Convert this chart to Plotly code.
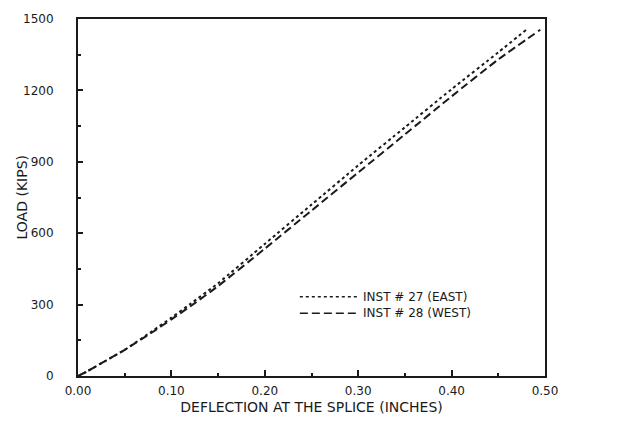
import plotly.graph_objects as go

# Load-deflection readings at the splice for the two instruments
deflection_east = [0.0, 0.01, 0.03, 0.05, 0.08, 0.10, 0.12, 0.15, 0.20, 0.25, 0.30, 0.35, 0.40, 0.45, 0.48]
load_east = [0, 20, 65, 110, 190, 245, 302, 390, 555, 720, 885, 1045, 1205, 1360, 1455]

deflection_west = [0.0, 0.01, 0.03, 0.05, 0.08, 0.10, 0.12, 0.15, 0.20, 0.25, 0.30, 0.35, 0.40, 0.45, 0.495]
load_west = [0, 20, 65, 110, 185, 238, 292, 378, 535, 695, 855, 1015, 1175, 1330, 1455]

x_ticks = [0.0, 0.1, 0.2, 0.3, 0.4, 0.5]
x_tick_labels = ["0.00", "0.10", "0.20", "0.30", "0.40", "0.50"]
y_ticks = [0, 300, 600, 900, 1200, 1500]
y_tick_labels = ["0", "300", "600", "900", "1200", "1500"]

legend_names = ["INST # 27 (EAST)", "INST # 28 (WEST)"]

INK = "#1a1a1a"
FONT = "DejaVu Sans"

fig = go.Figure()
fig.add_trace(go.Scatter(x=deflection_east, y=load_east, mode="lines",
                         line=dict(color=INK, width=2, dash="3px,3px", shape="spline", smoothing=0.6),
                         name=legend_names[0], showlegend=False))
fig.add_trace(go.Scatter(x=deflection_west, y=load_west, mode="lines",
                         line=dict(color=INK, width=2, dash="8px,4px", shape="spline", smoothing=0.6),
                         name=legend_names[1], showlegend=False))

# Hand-placed key inside the plot
key_rows = [(0.222, "3px,3px"), (0.176, "8px,4px")]
for (ky, dash), label in zip(key_rows, legend_names):
    fig.add_shape(type="line", xref="paper", yref="paper",
                  x0=0.475, x1=0.600, y0=ky, y1=ky,
                  line=dict(color=INK, width=1.5, dash=dash))
    fig.add_annotation(xref="paper", yref="paper", x=0.605, y=ky,
                       text=label, showarrow=False, xanchor="left", yanchor="middle",
                       font=dict(family=FONT, size=12, color=INK))

# Vertical axis title
fig.add_annotation(xref="paper", yref="paper", x=-0.12, y=0.5,
                   text="LOAD (KIPS)", textangle=-90, showarrow=False,
                   xanchor="center", yanchor="middle",
                   font=dict(family=FONT, size=14, color=INK))

fig.update_layout(
    width=618, height=425,
    margin=dict(l=78, r=73, t=15, b=45),
    paper_bgcolor="white", plot_bgcolor="white",
    font=dict(family=FONT, size=12, color=INK),
    showlegend=False,
)
fig.update_xaxes(
    range=[0, 0.5], tickvals=x_ticks, ticktext=x_tick_labels,
    showgrid=False, zeroline=False,
    showline=True, mirror=True, linecolor=INK, linewidth=1.5,
    ticks="inside", ticklen=6, tickwidth=1.5, tickcolor=INK,
    minor=dict(tickvals=[0.05, 0.15, 0.25, 0.35, 0.45], ticks="inside", ticklen=3, tickwidth=1.5, tickcolor=INK),
    tickfont=dict(family=FONT, size=12, color=INK),
    ticklabelstandoff=3,
    title=dict(text="DEFLECTION AT THE SPLICE (INCHES)", font=dict(family=FONT, size=14, color=INK), standoff=5),
)
fig.update_yaxes(
    range=[0, 1500], tickvals=y_ticks, ticktext=y_tick_labels,
    showgrid=False, zeroline=False,
    showline=True, mirror=True, linecolor=INK, linewidth=2,
    ticks="inside", ticklen=5, tickwidth=1.5, tickcolor=INK,
    minor=dict(tickvals=[150, 450, 750, 1050, 1350], ticks="inside", ticklen=3, tickwidth=1.5, tickcolor=INK),
    tickfont=dict(family=FONT, size=12, color=INK),
    ticklabelstandoff=20,
)

fig.write_html("out.html")
